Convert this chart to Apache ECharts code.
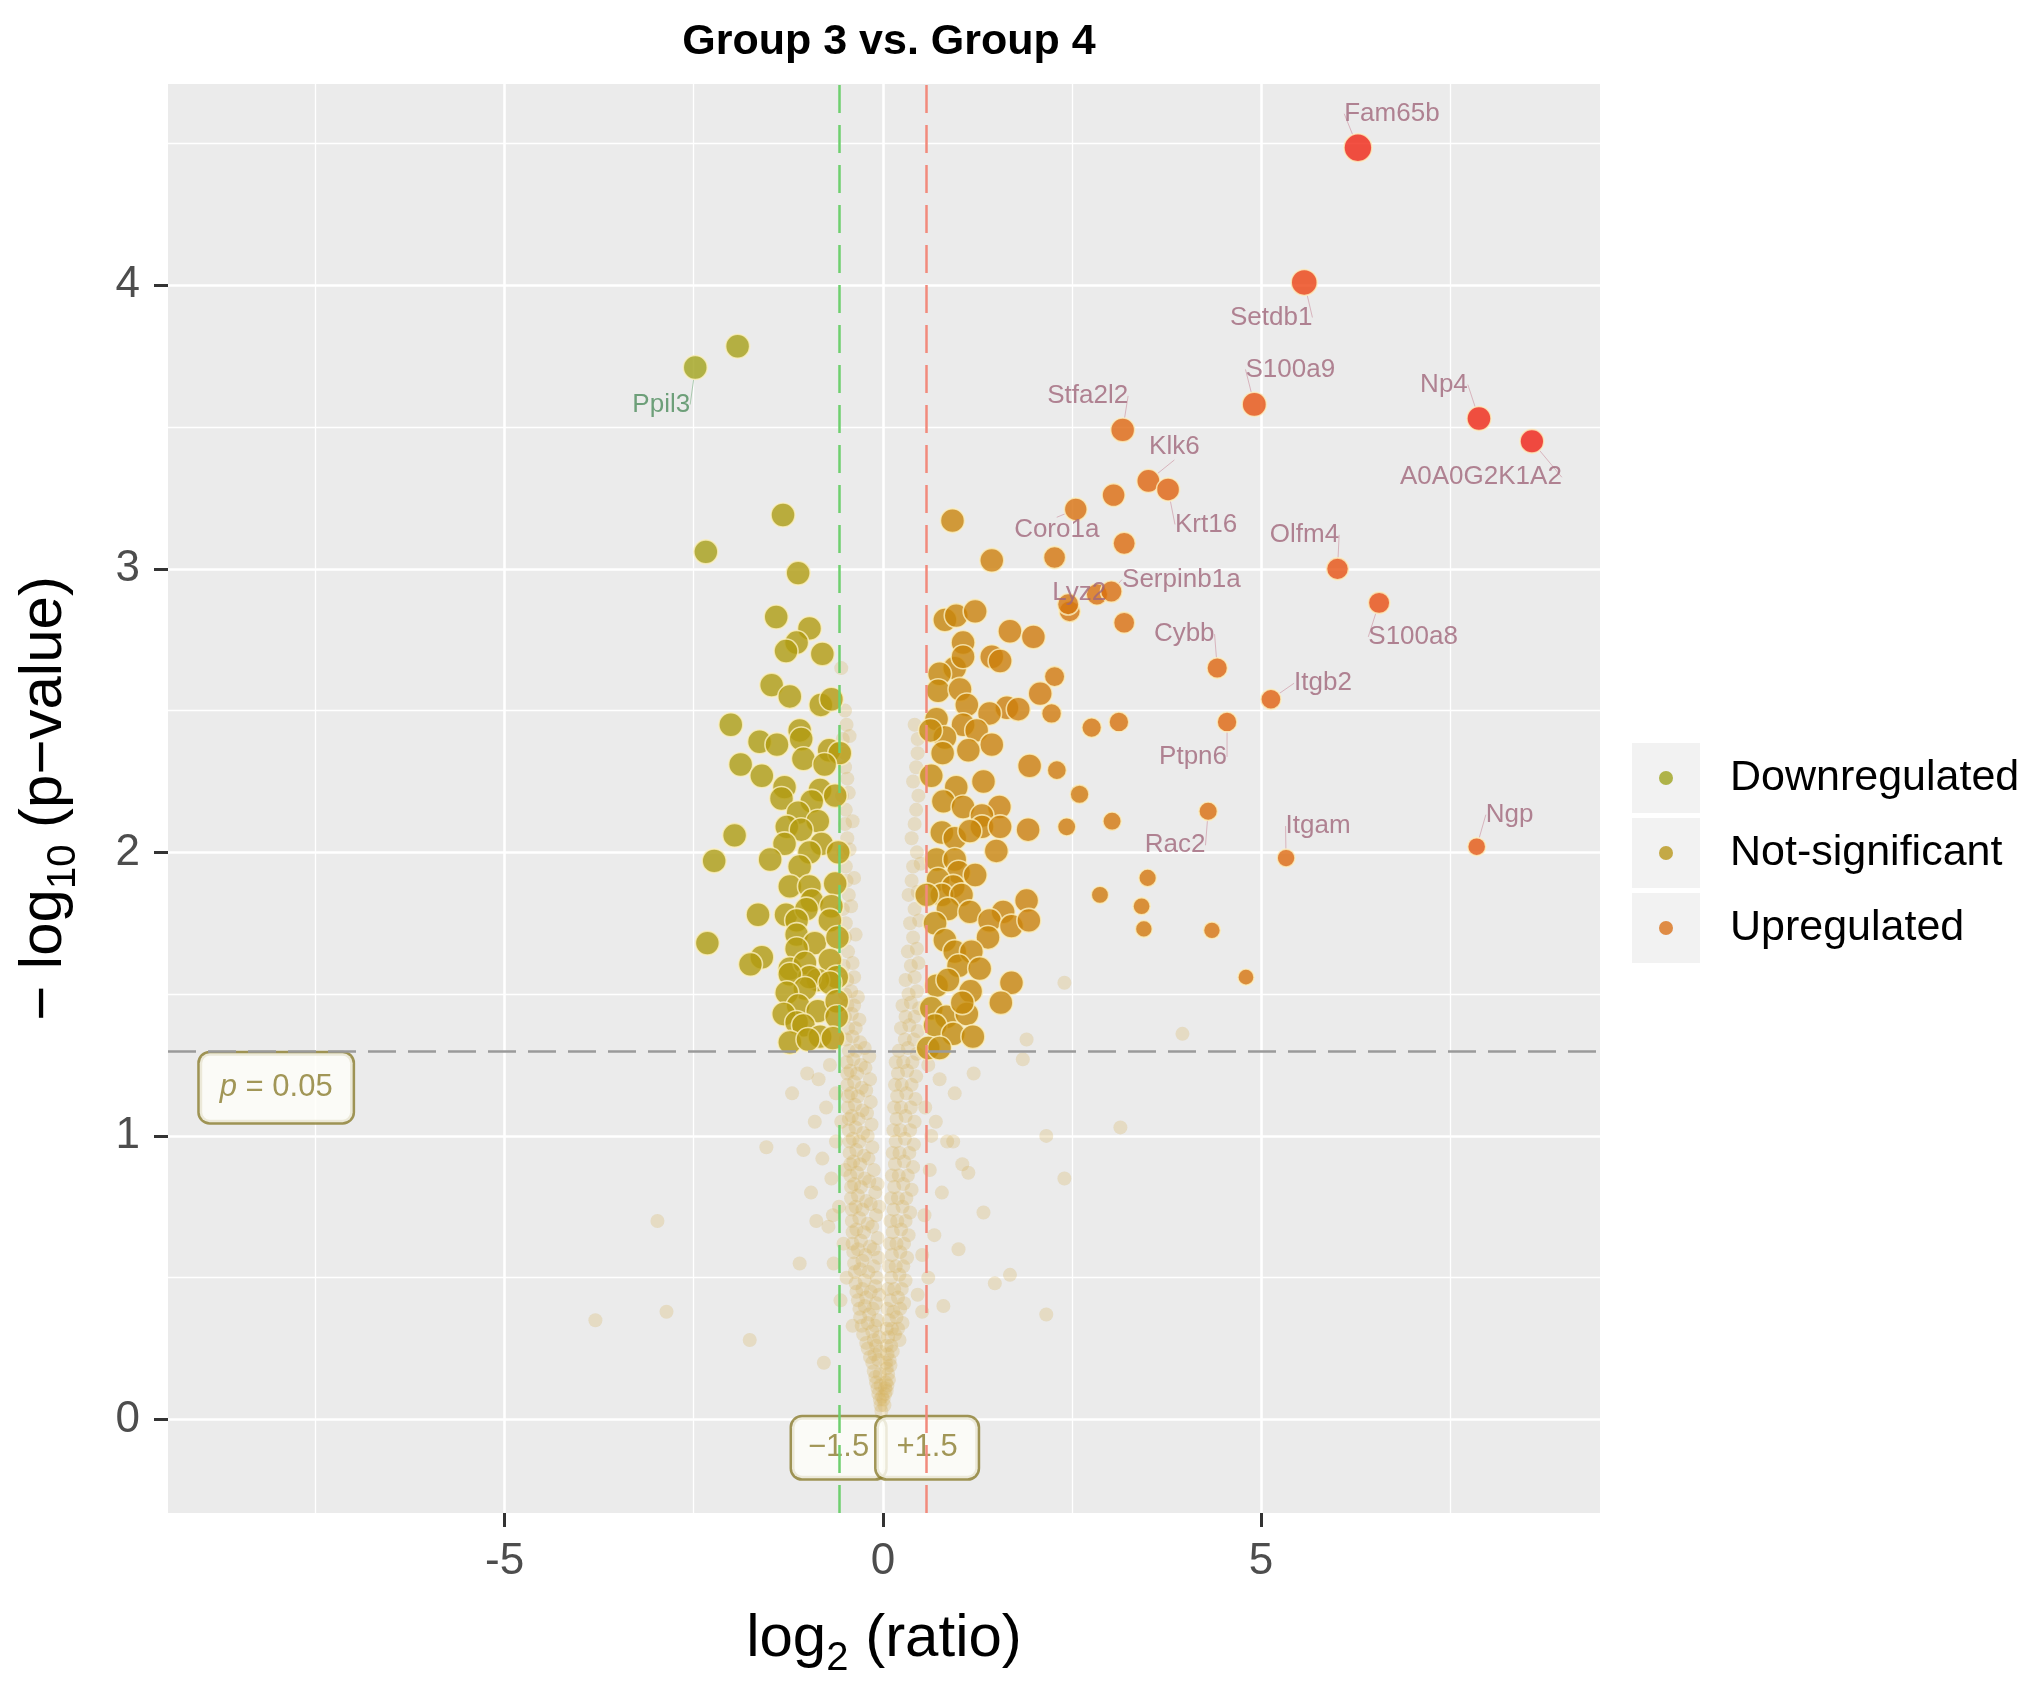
<!DOCTYPE html>
<html>
<head>
<meta charset="utf-8">
<title>Group 3 vs. Group 4</title>
<script src="https://cdn.jsdelivr.net/npm/echarts@6/dist/echarts.min.js"></script>
<style>
  html, body { margin: 0; padding: 0; background: #fff; }
  #chart { width: 2031px; height: 1690px; }
</style>
</head>
<body>
<div id="chart"></div>
<script>
// axis ticks
var xTicks = [-5, 0, 5];
var yTicks = [0, 1, 2, 3, 4];

// cut-offs: fold change 1.5 (log2 = 0.585) and p = 0.05 (-log10 = 1.301)
var foldCut = 0.585;
var pCut = 1.301;

// labelled genes
var downGenes = ['Ppil3'];
var downGeneX = [-2.48];
var downGeneY = [3.71];

var upGenes = ['Fam65b', 'Setdb1', 'S100a9', 'Np4', 'A0A0G2K1A2', 'Stfa2l2', 'Klk6', 'Krt16', 'Coro1a',
  'Serpinb1a', 'Lyz2', 'Olfm4', 'S100a8', 'Cybb', 'Itgb2', 'Ptpn6', 'Rac2', 'Itgam', 'Ngp'];
var upGeneX = [6.28, 5.57, 4.91, 7.88, 8.58, 3.17, 3.51, 3.77, 2.55, 3.02, 2.45, 6.01, 6.56, 4.42, 5.13, 4.55, 4.30, 5.33, 7.85];
var upGeneY = [4.485, 4.01, 3.58, 3.53, 3.45, 3.49, 3.31, 3.28, 3.21, 2.92, 2.875, 3.0, 2.88, 2.65, 2.54, 2.46, 2.145, 1.98, 2.02];

// significant, unlabelled points
var downPoints = [
  [-1.92,3.785],[-1.32,3.19],[-2.34,3.06],[-1.12,2.985],[-1.41,2.83],[-0.97,2.79],[-1.14,2.74],[-1.28,2.71],
  [-0.80,2.70],[-1.47,2.59],[-1.23,2.55],[-0.82,2.52],[-0.68,2.54],[-2.01,2.45],[-1.63,2.39],[-1.40,2.38],
  [-1.10,2.43],[-1.08,2.40],[-1.05,2.33],[-0.71,2.36],[-0.57,2.35],[-0.77,2.31],[-1.88,2.31],[-1.60,2.27],
  [-1.30,2.23],[-0.83,2.22],[-0.63,2.20],[-1.34,2.19],[-0.94,2.18],[-1.12,2.14],[-0.86,2.11],[-1.27,2.09],
  [-1.08,2.08],[-1.96,2.06],[-1.30,2.03],[-0.81,2.03],[-0.97,2.00],[-0.59,2.00],[-2.23,1.97],[-1.49,1.975],
  [-1.10,1.95],[-1.23,1.88],[-0.97,1.88],[-0.63,1.89],[-0.94,1.83],[-0.68,1.81],[-1.65,1.78],[-1.28,1.78],
  [-0.70,1.76],[-1.01,1.80],[-1.14,1.76],[-1.14,1.71],[-0.90,1.68],[-0.60,1.70],[-2.32,1.68],[-1.14,1.66],
  [-1.60,1.63],[-1.75,1.605],[-1.23,1.59],[-1.03,1.61],[-0.70,1.62],[-0.61,1.56],[-0.86,1.55],[-0.97,1.56],
  [-1.23,1.57],[-1.03,1.52],[-1.27,1.505],[-0.70,1.54],[-1.12,1.46],[-0.86,1.44],[-0.61,1.475],[-0.61,1.42],
  [-1.31,1.43],[-1.14,1.40],[-1.05,1.39],[-0.83,1.35],[-1.23,1.33],[-0.99,1.34],[-0.66,1.345]
];

var upPoints = [
  [0.92,3.17],[1.44,3.03],[3.05,3.26],[3.19,3.09],[2.27,3.04],[2.47,2.85],[2.83,2.91],[3.19,2.81],
  [0.82,2.82],[0.97,2.835],[1.22,2.85],[1.06,2.74],[1.68,2.78],[1.99,2.76],[1.44,2.69],[1.55,2.675],
  [0.95,2.65],[1.06,2.69],[0.75,2.63],[0.73,2.57],[1.02,2.575],[1.11,2.52],[2.27,2.62],[2.08,2.56],
  [1.64,2.51],[1.79,2.505],[2.23,2.49],[1.41,2.49],[0.71,2.47],[1.06,2.45],[1.24,2.43],[0.82,2.405],
  [1.44,2.38],[1.13,2.36],[2.76,2.44],[3.12,2.46],[1.94,2.305],[2.30,2.29],[2.60,2.205],[0.64,2.27],
  [0.97,2.23],[1.33,2.25],[0.79,2.35],[0.63,2.43],[0.80,2.18],[1.06,2.16],[1.54,2.16],[1.31,2.13],
  [1.31,2.09],[1.55,2.09],[0.78,2.07],[0.95,2.05],[1.15,2.075],[1.92,2.08],[2.43,2.09],[3.03,2.11],
  [1.50,2.005],[0.71,1.975],[0.95,1.975],[1.00,1.93],[1.22,1.92],[0.73,1.905],[0.93,1.88],[0.78,1.85],
  [1.04,1.85],[0.58,1.85],[1.90,1.83],[2.87,1.85],[3.42,1.81],[3.45,1.73],[0.86,1.80],[1.15,1.79],
  [1.59,1.79],[1.41,1.76],[1.70,1.74],[1.93,1.76],[0.69,1.75],[1.39,1.70],[0.82,1.69],[0.95,1.65],
  [1.17,1.65],[1.00,1.60],[1.28,1.59],[1.70,1.54],[0.71,1.53],[0.86,1.55],[1.16,1.51],[1.56,1.47],
  [0.64,1.45],[0.84,1.42],[1.11,1.43],[0.69,1.39],[0.93,1.36],[1.19,1.35],[0.60,1.31],[0.75,1.31],
  [1.05,1.47],[3.50,1.91],[4.35,1.725],[4.80,1.56]
];

// non-significant cloud: left arm, right arm, scattered outliers
var nsLeft = [
  [-0.02,0.03],[-0.04,0.07],[-0.01,0.08],[-0.07,0.11],[-0.03,0.12],[-0.1,0.15],[-0.04,0.16],[-0.14,0.2],
  [-0.06,0.21],[-0.2,0.25],[-0.09,0.26],[-0.04,0.24],[-0.26,0.3],[-0.14,0.31],[-0.05,0.29],[-0.3,0.36],
  [-0.18,0.37],[-0.07,0.35],[-0.33,0.42],[-0.22,0.43],[-0.09,0.41],[-0.36,0.48],[-0.24,0.49],[-0.1,0.47],
  [-0.38,0.55],[-0.27,0.56],[-0.12,0.54],[-0.06,0.57],[-0.4,0.62],[-0.29,0.63],[-0.17,0.61],[-0.07,0.64],
  [-0.41,0.7],[-0.31,0.71],[-0.2,0.69],[-0.09,0.72],[-0.42,0.78],[-0.33,0.79],[-0.22,0.77],[-0.1,0.8],
  [-0.43,0.86],[-0.34,0.87],[-0.24,0.85],[-0.12,0.88],[-0.44,0.94],[-0.35,0.95],[-0.25,0.93],[-0.14,0.96],
  [-0.45,1.02],[-0.36,1.03],[-0.26,1.01],[-0.15,1.04],[-0.46,1.1],[-0.37,1.11],[-0.27,1.09],[-0.16,1.12],
  [-0.47,1.18],[-0.38,1.19],[-0.28,1.17],[-0.17,1.2],[-0.48,1.26],[-0.39,1.27],[-0.29,1.25],[-0.18,1.28],
  [-0.49,1.34],[-0.4,1.35],[-0.3,1.33],[-0.5,1.42],[-0.41,1.43],[-0.31,1.41],[-0.5,1.5],[-0.42,1.51],
  [-0.33,1.49],[-0.52,1.6],[-0.4,1.61],[-0.5,1.7],[-0.36,1.71],[-0.53,1.8],[-0.42,1.81],[-0.48,1.9],
  [-0.38,1.91],[-0.52,2.0],[-0.44,2.01],[-0.5,2.1],[-0.4,2.11],[-0.54,2.2],[-0.45,2.21],[-0.5,2.3],
  [-0.53,2.4],[-0.44,2.41],[-0.5,2.5],[-0.55,2.65],
  [-0.03,0.05],[-0.06,0.09],[-0.09,0.13],[-0.12,0.17],[-0.17,0.22],[-0.11,0.23],[-0.22,0.27],[-0.12,0.28],
  [-0.28,0.33],[-0.2,0.34],[-0.1,0.33],[-0.31,0.39],[-0.24,0.4],[-0.13,0.39],[-0.35,0.45],[-0.27,0.46],
  [-0.16,0.45],[-0.05,0.44],[-0.37,0.52],[-0.3,0.53],[-0.19,0.52],[-0.08,0.5],[-0.39,0.59],[-0.33,0.6],
  [-0.23,0.58],[-0.12,0.6],[-0.4,0.66],[-0.35,0.67],[-0.25,0.66],[-0.14,0.68],[-0.41,0.74],[-0.36,0.75],
  [-0.27,0.74],[-0.16,0.76],[-0.05,0.75],[-0.42,0.82],[-0.38,0.83],[-0.29,0.82],[-0.18,0.84],[-0.07,0.83],
  [-0.43,0.9],[-0.39,0.91],[-0.3,0.9],[-0.19,0.92],[-0.44,0.98],[-0.4,0.99],[-0.31,0.98],[-0.2,1.0],
  [-0.45,1.06],[-0.41,1.07],[-0.32,1.06],[-0.21,1.08],[-0.46,1.14],[-0.42,1.15],[-0.33,1.14],[-0.22,1.16],
  [-0.47,1.22],[-0.43,1.23],[-0.34,1.22],[-0.23,1.24],[-0.45,1.3],[-0.35,1.3],[-0.24,1.31],[-0.46,1.38],
  [-0.36,1.38],[-0.47,1.46],[-0.38,1.46],[-0.47,1.55],[-0.38,1.56],[-0.46,1.65],[-0.49,1.75],[-0.45,1.85],
  [-0.49,1.95],[-0.47,2.05],[-0.49,2.15],[-0.47,2.26],[-0.5,2.35],[-0.48,2.45]
];

var nsRight = [
  [0.02,0.05],[0.03,0.09],[0.05,0.1],[0.04,0.13],[0.08,0.14],[0.05,0.18],[0.1,0.19],[0.06,0.23],
  [0.13,0.24],[0.07,0.29],[0.16,0.3],[0.22,0.28],[0.08,0.35],[0.18,0.36],[0.26,0.34],[0.1,0.42],
  [0.2,0.43],[0.28,0.41],[0.11,0.5],[0.22,0.51],[0.3,0.49],[0.12,0.58],[0.23,0.59],[0.32,0.57],
  [0.13,0.66],[0.24,0.67],[0.34,0.65],[0.14,0.74],[0.26,0.75],[0.36,0.73],[0.15,0.82],[0.27,0.83],
  [0.38,0.81],[0.16,0.9],[0.28,0.91],[0.4,0.89],[0.17,0.98],[0.29,0.99],[0.41,0.97],[0.18,1.06],
  [0.3,1.07],[0.42,1.05],[0.19,1.14],[0.31,1.15],[0.43,1.13],[0.2,1.22],[0.32,1.23],[0.44,1.21],
  [0.21,1.3],[0.33,1.31],[0.45,1.29],[0.24,1.38],[0.35,1.39],[0.46,1.37],[0.26,1.46],[0.37,1.47],
  [0.48,1.45],[0.3,1.55],[0.42,1.56],[0.33,1.65],[0.45,1.66],[0.36,1.75],[0.48,1.76],[0.34,1.85],
  [0.46,1.86],[0.4,1.95],[0.5,1.96],[0.38,2.05],[0.44,2.15],[0.4,2.25],[0.46,2.35],[0.42,2.45],
  [0.01,0.07],[0.03,0.11],[0.06,0.12],[0.07,0.16],[0.09,0.21],[0.04,0.2],[0.11,0.26],[0.05,0.26],
  [0.12,0.32],[0.2,0.32],[0.05,0.32],[0.14,0.38],[0.23,0.39],[0.06,0.39],[0.15,0.46],[0.25,0.46],
  [0.07,0.46],[0.17,0.54],[0.27,0.54],[0.08,0.54],[0.18,0.62],[0.28,0.62],[0.09,0.62],[0.19,0.7],
  [0.3,0.7],[0.1,0.7],[0.2,0.78],[0.31,0.78],[0.11,0.78],[0.21,0.86],[0.33,0.86],[0.12,0.86],
  [0.22,0.94],[0.35,0.94],[0.13,0.94],[0.23,1.02],[0.36,1.02],[0.14,1.02],[0.24,1.1],[0.37,1.1],
  [0.15,1.1],[0.25,1.18],[0.38,1.18],[0.16,1.18],[0.27,1.26],[0.39,1.26],[0.17,1.26],[0.29,1.34],
  [0.41,1.34],[0.3,1.42],[0.42,1.42],[0.34,1.5],[0.45,1.51],[0.37,1.6],[0.47,1.61],[0.4,1.7],
  [0.42,1.8],[0.38,1.9],[0.45,2.0],[0.42,2.1],[0.47,2.2],[0.44,2.3],[0.46,2.4]
];

var nsScatter = [
  [-0.7,1.25],[-0.85,1.2],[-1.0,1.22],[-0.75,1.1],[-0.9,1.05],[-0.62,0.98],[-0.8,0.92],[-0.68,0.85],
  [-0.95,0.8],[-0.58,0.75],[-0.72,0.68],[-0.52,0.62],[-0.65,0.55],[-0.48,0.5],[-0.56,0.42],[-0.4,0.33],
  [-1.2,1.15],[-1.05,0.95],[-0.88,0.7],[-1.54,0.96],[-1.1,0.55],[-1.76,0.28],[-2.98,0.7],[-2.86,0.38],
  [-3.8,0.35],[-0.78,0.2],[-0.62,1.15],[-0.55,1.05],[-0.66,0.72],[-0.5,0.88],
  [0.6,1.25],[0.75,1.2],[0.95,1.15],[1.2,1.22],[0.7,1.05],[0.85,0.98],[1.05,0.9],[0.62,0.88],
  [0.78,0.8],[0.55,0.72],[0.68,0.65],[0.52,0.58],[0.6,0.5],[0.46,0.44],[0.52,0.38],[0.93,0.98],
  [1.13,0.87],[1.33,0.73],[1.48,0.48],[1.68,0.51],[2.16,0.37],[2.16,1.0],[1.85,1.27],[1.9,1.34],
  [2.4,1.54],[3.96,1.36],[3.14,1.03],[2.4,0.85],[1.0,0.6],[0.8,0.4],[0.56,1.1],[0.64,1.0]
];

// where each gene label sits relative to its point (px)
var labelOffsets = {
  'Fam65b': [34, -34], 'Setdb1': [-33, 35], 'S100a9': [36, -35], 'Np4': [-35, -34],
  'A0A0G2K1A2': [-51, 36], 'Stfa2l2': [-35, -34], 'Klk6': [26, -34], 'Krt16': [38, 35],
  'Coro1a': [-19, 21], 'Serpinb1a': [70, -12], 'Lyz2': [11, -11], 'Olfm4': [-33, -34],
  'S100a8': [34, 34], 'Cybb': [-33, -34], 'Itgb2': [52, -16], 'Ptpn6': [-34, 35],
  'Rac2': [-33, 34], 'Itgam': [32, -32], 'Ngp': [33, -32], 'Ppil3': [-34, 37]
};

// colour ramp over log2 ratio * -log10 p
var colourStops = [[-9.5,'#a0a21c'],[-4,'#ae9c12'],[-1,'#b69a0e'],[0,'#bc930c'],[1.5,'#c4890b'],[4,'#cc800c'],
  [8,'#d8720e'],[12,'#e0640f'],[17,'#e65411'],[22,'#ec4412'],[27,'#f02a14'],[30,'#f01e14']];

function hexToRgb(h) {
  return [parseInt(h.substr(1,2),16), parseInt(h.substr(3,2),16), parseInt(h.substr(5,2),16)];
}
function rampColour(s) {
  if (s <= colourStops[0][0]) return colourStops[0][1];
  for (var i = 1; i < colourStops.length; i++) {
    if (s <= colourStops[i][0]) {
      var a = colourStops[i-1], b = colourStops[i];
      var t = (s - a[0]) / (b[0] - a[0]);
      var ca = hexToRgb(a[1]), cb = hexToRgb(b[1]);
      var c = [0,1,2].map(function(k){ return Math.round(ca[k] + (cb[k]-ca[k])*t); });
      return 'rgb(' + c.join(',') + ')';
    }
  }
  return colourStops[colourStops.length-1][1];
}
function pointSize(v) {
  if (v[0] > 2.2) return Math.max(15, 10 + 4.0 * v[1]);
  return 24;
}

function buildSig(points, names, xs, ys) {
  var out = points.map(function(p){ return { value: p }; });
  for (var i = 0; i < names.length; i++) {
    out.push({ name: names[i], value: [xs[i], ys[i]], label: { show: true } });
  }
  return out;
}

var font = 'Liberation Sans, Arial, Helvetica, sans-serif';

var sigStyle = {
  color: function(p){ return rampColour(p.value[0] * p.value[1]); },
  borderColor: '#fbf0c2',
  borderWidth: 1.6
};
var sigLabel = {
  show: false,
  position: 'inside',
  formatter: '{b}',
  fontFamily: font,
  fontSize: 26,
  color: '#a0667a'
};
function sigLayout(params) {
  var o = labelOffsets[params.text];
  if (!o) return {};
  return { dx: o[0], dy: o[1] };
}

var axisName = {
  n: { fontFamily: font, fontSize: 60, color: '#000', lineHeight: 80 },
  s: { fontFamily: font, fontSize: 40, color: '#000', lineHeight: 40, verticalAlign: 'bottom' }
};

var chart = echarts.init(document.getElementById('chart'));

var option = {
  animation: false,
  backgroundColor: '#ffffff',
  textStyle: { fontFamily: font },
  title: {
    text: 'Group 3 vs. Group 4',
    left: 884,
    textAlign: 'center',
    top: 16,
    textStyle: { fontFamily: font, fontSize: 43, fontWeight: 'bold', color: '#000' }
  },
  grid: {
    left: 168, right: 431, top: 84, bottom: 177,
    show: true, backgroundColor: '#ebebeb', borderWidth: 0
  },
  legend: {
    orient: 'vertical',
    left: 1659,
    top: 743,
    padding: 0,
    itemWidth: 14,
    itemHeight: 14,
    itemGap: 5,
    icon: 'circle',
    selectedMode: false,
    textStyle: { fontFamily: font, fontSize: 43, color: '#000', lineHeight: 70, padding: [0, 0, 0, 52] },
    data: [
      { name: 'Downregulated', itemStyle: { color: '#9ea31e', borderWidth: 0 } },
      { name: 'Not-significant', itemStyle: { color: '#b8961a', borderWidth: 0 } },
      { name: 'Upregulated', itemStyle: { color: '#d9721a', borderWidth: 0 } }
    ]
  },
  graphic: [0, 1, 2].map(function(i){
    return { type: 'rect', z: -1, shape: { x: 1632, y: 743 + i * 75, width: 68, height: 70 }, style: { fill: '#f2f2f2' } };
  }),
  xAxis: {
    type: 'value',
    min: -9.45,
    max: 9.48,
    splitNumber: 4,
    name: '{n|log}{s|2}{n| (ratio)}',
    nameLocation: 'middle',
    nameGap: 86,
    nameTextStyle: { rich: axisName },
    axisLine: { show: true, onZero: false, lineStyle: { color: 'rgba(0,0,0,0)', width: 0 } },
    axisTick: { show: true, length: 14, lineStyle: { color: '#333', width: 3 }, customValues: xTicks },
    axisLabel: { fontFamily: font, fontSize: 44, color: '#4d4d4d', margin: 27, customValues: xTicks },
    splitLine: { show: true, lineStyle: { color: '#ffffff', width: 2.6 } },
    minorTick: { show: false, splitNumber: 2 },
    minorSplitLine: { show: true, lineStyle: { color: '#ffffff', width: 1.3 } }
  },
  yAxis: {
    type: 'value',
    min: -0.33,
    max: 4.71,
    splitNumber: 5,
    name: '{n|− log}{s|10}{n| (p−value)}',
    nameLocation: 'middle',
    nameRotate: 90,
    nameGap: 84,
    nameTextStyle: { rich: axisName },
    axisLine: { show: true, onZero: false, lineStyle: { color: 'rgba(0,0,0,0)', width: 0 } },
    axisTick: { show: true, length: 14, lineStyle: { color: '#333', width: 3 }, customValues: yTicks },
    axisLabel: { fontFamily: font, fontSize: 44, color: '#4d4d4d', margin: 28, customValues: yTicks },
    splitLine: { show: true, lineStyle: { color: '#ffffff', width: 2.6 } },
    minorTick: { show: false, splitNumber: 2 },
    minorSplitLine: { show: true, lineStyle: { color: '#ffffff', width: 1.3 } }
  },
  series: [
    {
      name: 'Not-significant',
      type: 'scatter',
      z: 1,
      silent: true,
      symbolSize: 14,
      itemStyle: { color: 'rgba(214,178,96,0.36)' },
      data: nsLeft.concat(nsRight, nsScatter)
    },
    {
      name: 'Downregulated',
      type: 'scatter',
      z: 2,
      symbolSize: 24,
      itemStyle: sigStyle,
      label: Object.assign({}, sigLabel, { color: '#4e8c5c' }),
      labelLayout: sigLayout,
      labelLine: { show: true, lineStyle: { color: '#a9c9ae', width: 1 } },
      data: buildSig(downPoints, downGenes, downGeneX, downGeneY)
    },
    {
      name: 'Upregulated',
      type: 'scatter',
      z: 2,
      symbolSize: pointSize,
      itemStyle: sigStyle,
      label: sigLabel,
      labelLayout: sigLayout,
      labelLine: { show: true, lineStyle: { color: '#d8b4bd', width: 1 } },
      data: buildSig(upPoints, upGenes, upGeneX, upGeneY)
    },
    {
      name: 'cutoffs',
      type: 'scatter',
      z: 3,
      silent: true,
      symbolSize: 0,
      label: {
        show: true,
        position: 'inside',
        formatter: '{b}',
        fontFamily: font,
        fontSize: 31,
        color: '#8b7d2e',
        backgroundColor: '#fffffa',
        borderColor: '#8b7d2e',
        borderWidth: 2.5,
        borderRadius: 10,
        padding: [15, 16],
        rich: {
          i: { fontFamily: font, fontSize: 31, fontStyle: 'italic', color: '#8b7d2e' }
        }
      },
      data: [
        { name: '−1.5', value: [-foldCut, -0.1] },
        { name: '+1.5', value: [foldCut, -0.1], label: { padding: [15, 20] } },
        { name: 'p', value: [-8.02, 1.17], label: { formatter: '{i|p} = 0.05', padding: [19, 20] } }
      ],
      markLine: {
        silent: true,
        symbol: ['none', 'none'],
        label: { show: false },
        lineStyle: { type: [28, 12], width: 2.5 },
        data: [
          { xAxis: -foldCut, lineStyle: { color: '#6fd06f', type: [28, 12], width: 2.5 } },
          { xAxis: foldCut, lineStyle: { color: '#f28a7c', type: [28, 12], width: 2.5 } },
          { yAxis: pCut, lineStyle: { color: '#9a9a9a', type: [28, 12], width: 2.5 } }
        ]
      }
    }
  ]
};

chart.setOption(option);
</script>
</body>
</html>
